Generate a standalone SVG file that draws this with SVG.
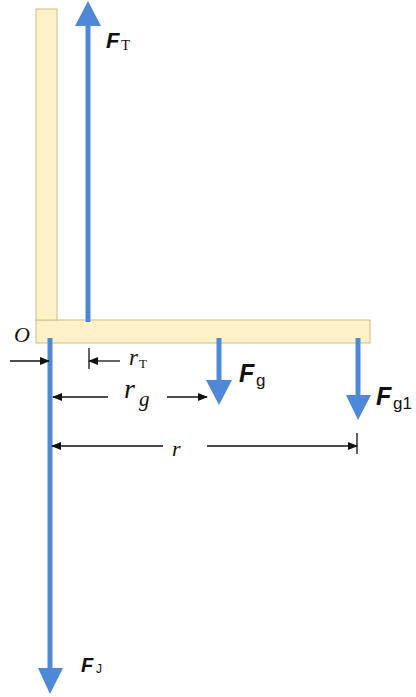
<svg xmlns="http://www.w3.org/2000/svg" width="416" height="697" viewBox="0 0 416 697">
<style>
.bar{fill:#fff2c8;stroke:#cdbb8a;stroke-width:1}
.force{stroke:#4e88d6;stroke-width:5;fill:none}
.head{fill:#4e88d6}
.dim{stroke:#111;stroke-width:1.3;fill:none}
.sym{font-family:"Liberation Serif",serif;font-style:italic;fill:#111}
.sub{font-family:"Liberation Serif",serif;fill:#111}
.F{font-family:"Liberation Sans",Arial,sans-serif;font-weight:bold;font-style:italic;fill:#111}
.fsub{font-family:"Liberation Sans",Arial,sans-serif;fill:#111}
</style>
<defs>
<marker id="ah" markerWidth="10" markerHeight="8" refX="9" refY="4" orient="auto" markerUnits="userSpaceOnUse">
<path d="M0,0 L10,4 L0,8 Z" fill="#111"/>
</marker>
</defs>
<rect width="416" height="697" fill="#fff"/>
<g id="beam">
<rect class="bar" x="36" y="320" width="334" height="23"/>
<rect class="bar" x="36" y="9" width="21" height="311"/>
</g>
<g id="FT">
<line class="force" x1="88" y1="322" x2="88" y2="25"/>
<polygon class="head" points="75,26 101,26 88,1"/>
<text class="F" x="106" y="48" font-size="22">F</text><text class="sub" x="121" y="50" font-size="15">T</text>
</g>
<g id="FJ">
<line class="force" x1="50" y1="338" x2="50" y2="669"/>
<polygon class="head" points="38,668 63,668 50,694"/>
<text class="F" x="81" y="672" font-size="20">F</text><text class="fsub" x="96" y="673" font-size="12">J</text>
</g>
<g id="Fg">
<line class="force" x1="219" y1="338" x2="219" y2="381"/>
<polygon class="head" points="206,380 232,380 219,405"/>
<text class="F" x="239" y="382" font-size="25">F</text><text class="fsub" x="256" y="386" font-size="17">g</text>
</g>
<g id="Fg1">
<line class="force" x1="358" y1="338" x2="358" y2="396"/>
<polygon class="head" points="346,395 371,395 358,420"/>
<text class="F" x="376" y="405" font-size="25">F</text><text class="fsub" x="393" y="409" font-size="17">g1</text>
</g>
<g id="O">
<text class="sym" x="14" y="342" font-size="22">O</text>
</g>
<g id="connectors">
<line class="dim" x1="10" y1="361" x2="49" y2="361" marker-end="url(#ah)"/>
<line class="dim" x1="89" y1="348" x2="89" y2="369"/>
<line class="dim" x1="120" y1="361" x2="89" y2="361" marker-end="url(#ah)"/>
<line class="dim" x1="108" y1="397" x2="53" y2="397" marker-end="url(#ah)"/>
<line class="dim" x1="167" y1="397" x2="207" y2="397" marker-end="url(#ah)"/>
<line class="dim" x1="163" y1="446" x2="52" y2="446" marker-end="url(#ah)"/>
<line class="dim" x1="207" y1="446" x2="357" y2="446" marker-end="url(#ah)"/>
<line class="dim" x1="357" y1="433" x2="357" y2="454"/>
</g>
<g id="labels">
<text class="sym" x="129" y="365" font-size="23">r</text><text class="sub" x="139" y="368" font-size="13">T</text>
<text class="sym" x="124" y="398" font-size="28">r</text><text class="sym" x="139" y="406" font-size="21">g</text>
<text class="sym" x="172" y="456" font-size="22">r</text>
</g>
</svg>
